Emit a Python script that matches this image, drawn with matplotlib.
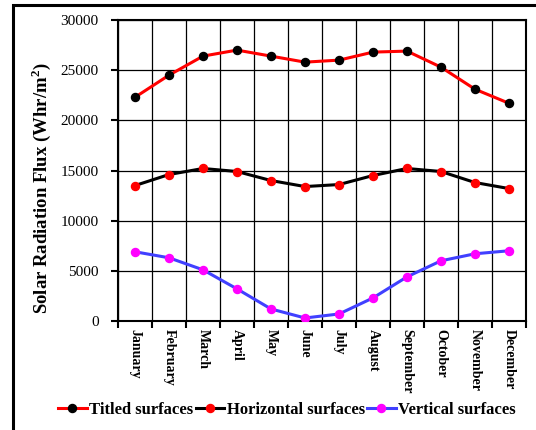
import numpy as np
import matplotlib
matplotlib.use("Agg")
import matplotlib.pyplot as plt
from matplotlib.patches import Rectangle

plt.rcParams['font.family'] = ['Liberation Serif', 'DejaVu Serif']
plt.rcParams['mathtext.fontset'] = 'custom'
plt.rcParams['mathtext.bf'] = 'Liberation Serif:bold'
plt.rcParams['mathtext.rm'] = 'Liberation Serif'

MONTHS = ["January", "February", "March", "April", "May", "June", "July",
          "August", "September", "October", "November", "December"]
tilted = [22300, 24500, 26400, 27000, 26400, 25800, 26000, 26800, 26900, 25300, 23100, 21700]
horizontal = [13500, 14600, 15200, 14900, 14000, 13400, 13600, 14500, 15200, 14900, 13800, 13200]
vertical = [6900, 6300, 5100, 3200, 1200, 300, 700, 2300, 4400, 6000, 6700, 7000]

fig = plt.figure(figsize=(5.36, 4.30), dpi=100)
ax = fig.add_axes([118/536, 1 - 321/430, (526-118)/536, (321-20)/430])

x = np.arange(len(MONTHS))
ax.plot(x, tilted, color="#ff0000", lw=2.2, marker="o", ms=5.8,
        mfc="black", mec="black", label="Titled surfaces", zorder=3)
ax.plot(x, horizontal, color="black", lw=2.2, marker="o", ms=5.8,
        mfc="#ff0000", mec="#ff0000", label="Horizontal surfaces", zorder=3)
ax.plot(x, vertical, color="#4040ff", lw=2.2, marker="o", ms=5.8,
        mfc="#ff00ff", mec="#ff00ff", label="Vertical surfaces", zorder=3)

ax.set_xlim(-0.5, 11.5)
ax.set_ylim(0, 30000)
ax.set_yticks(np.arange(0, 30001, 5000))
ax.set_xticks(np.arange(-0.5, 12, 1))
ax.set_xticklabels([])
ax.set_xticks(x, minor=True)
ax.set_xticklabels(MONTHS, minor=True, rotation=270, fontsize=10,
                   fontweight="bold", va="top", ha="center")
ax.tick_params(axis="x", which="minor", length=0, pad=6)
ax.tick_params(axis="x", which="major", length=5, width=1.5, direction="out")
ax.tick_params(axis="y", length=5, width=1.5, direction="out", labelsize=11, pad=9)
ax.grid(True, which="major", color="black", lw=0.9)
for s in ax.spines.values():
    s.set_linewidth(1.5)

ax.set_ylabel(r"Solar Radiation Flux (Whr/m$^\mathbf{2}$)", fontsize=13.5,
              fontweight="bold")
ax.yaxis.set_label_coords(-0.16, 0.44)

ax.legend(loc="center", bbox_to_anchor=(287/536, 1 - 410/430), bbox_transform=fig.transFigure,
          ncol=3, frameon=False, prop={"weight": "bold", "size": 12},
          handlelength=1.7, handletextpad=0.15, columnspacing=0.15, borderpad=0)

fig.patches.append(Rectangle((13/536, -0.1), 1.2, 1.1 - 5/430, transform=fig.transFigure,
                             fill=False, edgecolor="black", lw=2.2, clip_on=False))

fig.savefig("out.png", dpi=100)
